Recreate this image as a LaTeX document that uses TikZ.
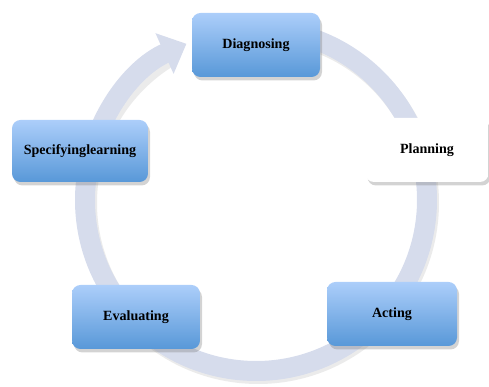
\documentclass[tikz,border=0pt]{standalone}
\usepackage{fontspec}
\setmainfont{Liberation Serif}
\usetikzlibrary{arrows.meta,shadows}

\definecolor{ringgray}{RGB}{214,220,236}
\definecolor{boxtop}{RGB}{172,206,250}
\definecolor{boxbottom}{RGB}{88,152,216}

\begin{document}
\begin{tikzpicture}[
    stage/.style={rounded corners=0.17cm, minimum width=2.56cm, minimum height=1.28cm,
        top color=boxtop, bottom color=boxbottom, draw=none,
        font=\fontsize{8}{9.6}\selectfont\bfseries,
        drop shadow={opacity=0.35, shadow xshift=0.04cm, shadow yshift=-0.07cm}},
    blank/.style={stage, top color=white, bottom color=white},
    ring/.style={line width=0.4cm, color=ringgray,
        -{Triangle[width=0.86cm, length=0.48cm]}}
]
    \useasboundingbox (0,0) rectangle (9.78,7.74);
    % Cycle centre
    \coordinate (C) at (5.12,3.74);
    % Ring with shadow
    \draw [line width=0.4cm, black, opacity=0.08] ([shift={(85:3.42)}]5.16,3.68) arc (85:-240:3.42);
    \draw [ring] ([shift={(85:3.42)}]C) arc (85:-246:3.42);
    % Stages
    \node [stage] (diag) at (5.12,6.84) {Diagnosing};
    \node [blank, minimum width=2.46cm] (plan) at (8.54,4.74) {Planning};
    \node [stage, minimum width=2.60cm] (act) at (7.84,1.46) {Acting};
    \node [stage] (eval) at (2.72,1.40) {Evaluating};
    \node [stage, minimum width=2.72cm, minimum height=1.24cm] (spec) at (1.60,4.72) {Specifyinglearning};
\end{tikzpicture}
\end{document}
